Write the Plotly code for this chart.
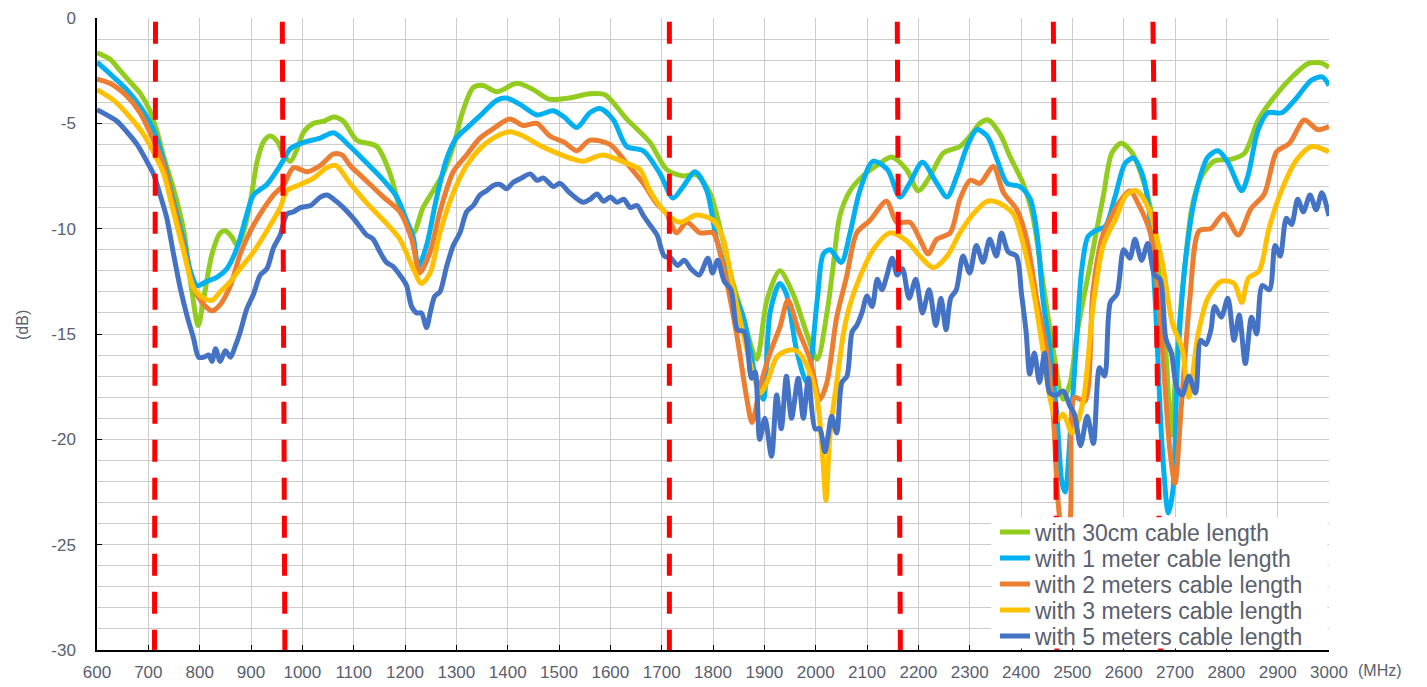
import plotly.graph_objects as go

# ---- measured return loss (dB) versus frequency (MHz) ----
freq_30cm = [600, 625, 645, 665, 685, 703, 717, 730, 749, 769, 785, 797, 808, 824, 840, 850, 863, 873,
             885, 899, 912, 925, 938, 951, 964, 977, 990, 1003, 1022, 1042, 1061, 1080, 1106, 1145,
             1171, 1190, 1216, 1235, 1255, 1274, 1294, 1313, 1333, 1352, 1379, 1418, 1450, 1480, 1520,
             1560, 1590, 1632, 1677, 1710, 1742, 1768, 1794, 1813, 1837, 1859, 1885, 1905, 1930, 1956,
             1983, 2003, 2022, 2034, 2047, 2067, 2092, 2125, 2148, 2177, 2200, 2223, 2249, 2281, 2301,
             2320, 2336, 2359, 2379, 2404, 2423, 2443, 2463, 2482, 2496, 2509, 2534, 2544, 2560, 2577,
             2595, 2615, 2634, 2652, 2671, 2684, 2692, 2705, 2720, 2733, 2750, 2776, 2811, 2836, 2862,
             2895, 2928, 2960, 2987, 3000]
db_30cm = [-1.65, -1.95, -2.5, -3.05, -3.6, -4.4, -5.4, -6.6, -8.1, -10.1, -13.0, -14.6, -13.3, -11.2,
           -10.2, -10.1, -10.4, -10.8, -10.2, -8.7, -6.8, -5.85, -5.6, -5.85, -6.5, -6.8, -6.2, -5.4,
           -5.0, -4.9, -4.7, -4.9, -5.8, -6.1, -7.4, -9.0, -10.2, -9.0, -8.2, -7.4, -6.1, -4.4, -3.3,
           -3.2, -3.5, -3.1, -3.4, -3.85, -3.8, -3.6, -3.65, -4.8, -5.9, -7.2, -7.5, -7.45, -8.3, -9.9,
           -12.4, -14.2, -16.2, -13.4, -12.0, -13.1, -15.0, -16.2, -14.0, -11.8, -9.4, -8.2, -7.5,
           -6.9, -6.6, -7.2, -8.2, -7.5, -6.4, -6.1, -5.6, -5.0, -4.84, -5.5, -6.6, -7.85, -9.4, -12.6,
           -15.8, -18.1, -17.3, -15.0, -11.8, -10.5, -8.5, -6.4, -5.95, -6.35, -7.4, -9.0, -12.6,
           -16.5, -19.8, -15.5, -11.6, -9.0, -7.6, -6.8, -6.7, -6.4, -4.85, -3.7, -2.8, -2.15, -2.15,
           -2.35]

freq_1m = [600, 632, 658, 684, 710, 730, 749, 769, 782, 795, 814, 834, 853, 873, 892, 905, 931, 957,
           977, 1003, 1035, 1061, 1093, 1126, 1158, 1184, 1203, 1216, 1226, 1242, 1261, 1281, 1300,
           1326, 1352, 1379, 1398, 1424, 1457, 1489, 1510, 1535, 1560, 1580, 1606, 1632, 1664, 1697,
           1722, 1742, 1765, 1788, 1807, 1833, 1859, 1885, 1898, 1911, 1930, 1943, 1963, 1983, 2003,
           2015, 2028, 2050, 2067, 2086, 2112, 2140, 2164, 2184, 2208, 2236, 2256, 2275, 2295, 2314,
           2334, 2353, 2373, 2398, 2418, 2431, 2443, 2457, 2470, 2480, 2486, 2496, 2509, 2518, 2530,
           2544, 2564, 2583, 2603, 2619, 2636, 2649, 2661, 2675, 2687, 2696, 2705, 2720, 2739, 2764,
           2784, 2804, 2830, 2842, 2862, 2881, 2908, 2933, 2966, 2987, 3000]
db_1m = [-2.1, -2.8, -3.4, -4.2, -5.3, -6.8, -8.7, -10.6, -12.0, -12.7, -12.5, -12.3, -11.9, -10.9,
         -9.3, -8.4, -7.9, -7.0, -6.2, -5.9, -5.7, -5.45, -6.1, -6.9, -7.7, -8.5, -9.6, -10.4, -11.8,
         -10.8, -8.6, -6.7, -5.7, -5.1, -4.5, -3.9, -3.8, -4.1, -4.6, -4.4, -4.7, -5.2, -4.5, -4.3,
         -4.84, -6.1, -6.3, -7.4, -8.55, -8.0, -7.3, -8.2, -10.5, -12.6, -14.2, -17.3, -18.1, -14.0,
         -12.6, -13.1, -15.8, -17.3, -13.4, -11.2, -11.0, -11.6, -10.2, -8.2, -6.8, -7.2, -8.5, -7.8,
         -6.85, -7.85, -8.5, -7.5, -6.1, -5.3, -5.6, -6.7, -7.85, -8.0, -8.6, -10.2, -13.4, -15.8,
         -18.9, -22.1, -22.5, -19.7, -15.0, -12.0, -10.4, -10.1, -9.9, -8.5, -6.9, -6.65, -7.4, -9.0,
         -13.2, -20.4, -23.5, -22.4, -16.4, -11.6, -8.5, -6.6, -6.3, -6.9, -8.2, -7.5, -5.3, -4.5,
         -4.5, -3.9, -2.95, -2.8, -3.2]

freq_2m = [600, 625, 658, 684, 710, 730, 749, 769, 788, 808, 824, 840, 860, 879, 899, 918, 944, 964,
           983, 1009, 1035, 1061, 1077, 1093, 1119, 1158, 1190, 1213, 1229, 1249, 1268, 1294, 1320,
           1346, 1372, 1404, 1430, 1457, 1482, 1510, 1535, 1560, 1599, 1632, 1664, 1690, 1710, 1729,
           1749, 1775, 1800, 1820, 1846, 1866, 1876, 1892, 1911, 1930, 1946, 1966, 1989, 2008, 2022,
           2041, 2060, 2080, 2106, 2138, 2158, 2184, 2203, 2219, 2236, 2262, 2281, 2301, 2320, 2346,
           2366, 2392, 2411, 2431, 2450, 2463, 2472, 2484, 2496, 2505, 2524, 2540, 2558, 2572, 2590,
           2612, 2630, 2653, 2673, 2690, 2700, 2712, 2729, 2747, 2770, 2795, 2823, 2848, 2874, 2898,
           2923, 2952, 2978, 3000]
db_2m = [-2.9, -3.1, -3.7, -4.5, -5.8, -7.0, -8.9, -10.9, -12.8, -13.6, -13.9, -13.6, -12.7, -11.2,
         -10.1, -9.3, -8.4, -7.9, -7.1, -7.3, -7.0, -6.45, -6.5, -7.0, -7.6, -8.5, -9.2, -10.5, -12.1,
         -11.1, -9.2, -7.3, -6.5, -5.7, -5.25, -4.8, -5.1, -5.0, -5.6, -5.9, -6.3, -5.8, -6.0, -6.9,
         -7.85, -8.8, -9.3, -10.2, -9.7, -10.2, -10.2, -11.8, -15.0, -18.1, -19.2, -17.5, -15.9,
         -14.7, -13.4, -14.8, -16.2, -18.1, -17.3, -14.2, -12.3, -10.2, -9.6, -8.7, -9.7, -9.7, -10.5,
         -11.2, -10.5, -10.2, -8.6, -7.7, -7.85, -7.05, -8.3, -9.1, -10.5, -13.4, -15.8, -18.9, -22.9,
         -25.2, -23.7, -18.0, -18.2, -13.0, -10.4, -9.6, -8.8, -8.2, -8.9, -10.3, -15.0, -20.5,
         -22.1, -18.5, -13.3, -10.1, -10.0, -9.3, -10.3, -9.05, -8.35, -6.35, -5.95, -4.84, -5.3,
         -5.15]

freq_3m = [600, 632, 664, 690, 717, 730, 749, 769, 788, 808, 824, 840, 860, 879, 905, 931, 957, 970,
           996, 1022, 1048, 1065, 1093, 1126, 1158, 1190, 1216, 1232, 1249, 1268, 1294, 1320, 1346,
           1372, 1404, 1430, 1463, 1495, 1528, 1547, 1586, 1632, 1658, 1677, 1710, 1736, 1768, 1800,
           1820, 1839, 1859, 1879, 1892, 1905, 1924, 1943, 1963, 1983, 2003, 2015, 2020, 2028, 2041,
           2054, 2067, 2086, 2112, 2145, 2178, 2203, 2229, 2256, 2281, 2307, 2334, 2359, 2385, 2404,
           2423, 2443, 2457, 2470, 2482, 2500, 2521, 2540, 2560, 2585, 2605, 2625, 2648, 2675, 2695,
           2714, 2727, 2745, 2764, 2790, 2815, 2830, 2843, 2864, 2883, 2909, 2938, 2967, 3000]
db_3m = [-3.4, -3.9, -4.7, -5.5, -6.7, -7.4, -9.2, -11.1, -12.8, -13.3, -13.4, -13.0, -12.5, -11.9,
         -11.1, -10.1, -9.0, -8.2, -7.9, -7.6, -7.1, -7.0, -7.85, -8.8, -9.6, -10.5, -11.9, -12.6,
         -12.1, -10.2, -8.3, -7.0, -6.2, -5.7, -5.4, -5.6, -6.05, -6.4, -6.7, -6.8, -6.5, -6.9, -7.2,
         -8.2, -9.3, -9.7, -9.35, -9.6, -10.5, -12.8, -15.0, -17.0, -17.8, -17.3, -16.1, -15.8,
         -15.8, -16.5, -18.1, -21.3, -22.9, -19.7, -17.3, -15.0, -13.6, -12.3, -11.0, -10.2, -10.6,
         -11.3, -11.85, -11.3, -10.2, -9.3, -8.7, -8.8, -9.3, -10.7, -12.8, -15.8, -18.1, -19.1,
         -18.8, -19.7, -18.2, -13.8, -10.8, -9.5, -8.4, -8.2, -9.0, -11.6, -14.5, -15.7, -18.0,
         -15.0, -13.3, -12.5, -12.6, -13.5, -12.35, -12.0, -10.0, -8.1, -6.7, -6.1, -6.35]

freq_5m = [600, 619, 639, 658, 678, 697, 710, 723, 736, 749, 762, 775, 788, 798, 808, 818, 824, 831,
           840, 850, 860, 869, 879, 892, 905, 918, 931, 944, 957, 970, 983, 996, 1016, 1035, 1048,
           1061, 1080, 1099, 1112, 1125, 1138, 1151, 1164, 1177, 1190, 1203, 1213, 1223, 1232, 1242,
           1249, 1258, 1268, 1281, 1294, 1307, 1320, 1333, 1346, 1359, 1372, 1385, 1398, 1411, 1427,
           1444, 1457, 1470, 1489, 1502, 1521, 1547, 1561, 1574, 1587, 1600, 1613, 1626, 1639, 1652,
           1665, 1678, 1691, 1705, 1718, 1731, 1744, 1757, 1773, 1790, 1799, 1809, 1822, 1835, 1848,
           1861, 1875, 1882, 1891, 1901, 1914, 1924, 1933, 1943, 1953, 1966, 1976, 1986, 1999, 2008,
           2018, 2025, 2031, 2041, 2051, 2061, 2071, 2080, 2090, 2100, 2110, 2120, 2129, 2139, 2149,
           2159, 2169, 2182, 2195, 2208, 2221, 2234, 2244, 2254, 2263, 2274, 2287, 2300, 2313, 2326,
           2339, 2352, 2362, 2375, 2391, 2401, 2410, 2417, 2426, 2436, 2446, 2456, 2469, 2482, 2495,
           2504, 2516, 2529, 2541, 2553, 2563, 2574, 2587, 2600, 2612, 2622, 2635, 2647, 2660, 2671,
           2682, 2693, 2703, 2714, 2727, 2740, 2750, 2760, 2770, 2777, 2790, 2803, 2815, 2825, 2837,
           2849, 2859, 2870, 2884, 2895, 2905, 2917, 2927, 2939, 2950, 2963, 2975, 2986, 3000]
db_5m = [-4.35, -4.6, -4.9, -5.4, -6.0, -6.8, -7.4, -8.4, -9.5, -11.2, -12.8, -14.1, -15.2, -16.1,
         -16.1, -16.0, -16.3, -15.7, -16.3, -15.8, -16.1, -15.6, -14.9, -13.8, -13.1, -12.2, -11.9,
         -10.9, -10.3, -9.3, -9.2, -9.0, -8.9, -8.5, -8.4, -8.6, -9.0, -9.5, -9.9, -10.3, -10.5,
         -11.1, -11.6, -11.8, -12.2, -12.7, -13.7, -14.0, -14.0, -14.7, -14.0, -13.2, -13.0, -11.8,
         -10.8, -10.2, -9.2, -8.9, -8.4, -8.2, -7.95, -7.9, -8.1, -7.8, -7.6, -7.4, -7.7, -7.6, -8.0,
         -7.85, -8.3, -8.75, -8.6, -8.35, -8.7, -8.5, -8.75, -8.6, -9.0, -8.9, -9.4, -9.85, -10.3,
         -11.3, -11.4, -11.75, -11.5, -11.9, -12.2, -11.4, -12.1, -11.5, -12.5, -12.9, -14.8, -14.9,
         -17.1, -16.8, -20.0, -19.0, -20.8, -17.9, -19.5, -17.0, -19.0, -17.1, -19.0, -17.1, -19.5,
         -19.5, -20.6, -19.7, -18.9, -19.7, -17.3, -17.0, -14.9, -14.6, -14.0, -13.2, -13.7, -12.4,
         -12.9, -12.2, -11.4, -12.2, -11.9, -13.3, -12.4, -14.0, -12.9, -14.6, -13.3, -14.8, -13.3,
         -12.9, -11.3, -12.1, -10.8, -11.6, -10.5, -11.3, -10.2, -11.1, -11.3, -13.1, -14.9, -16.9,
         -15.9, -17.3, -15.9, -17.8, -17.9, -17.7, -18.4, -18.8, -20.3, -18.9, -20.2, -16.6, -17.0,
         -13.5, -13.1, -11.0, -11.4, -10.5, -11.5, -10.7, -12.2, -12.4, -15.2, -15.9, -17.5, -17.9,
         -17.0, -17.8, -15.3, -15.5, -14.8, -13.7, -14.2, -13.3, -15.3, -14.1, -16.4, -14.2, -15.0,
         -12.7, -12.9, -10.8, -11.3, -9.5, -9.8, -8.6, -9.2, -8.4, -9.1, -8.3, -9.4]

series_names = ["with 30cm cable length", "with 1 meter cable length", "with 2 meters cable length",
                "with 3 meters cable length", "with 5 meters cable length"]
series_colors = ["#92CC1E", "#00B0F0", "#ED7D31", "#FFC000", "#4472C4"]

# band edges marked with red dashed lines: (frequency at top, frequency at bottom), MHz
band_edges = [(714, 712), (961, 966), (1715, 1715), (2159, 2165), (2463, 2470), (2657, 2672)]

x_ticks = list(range(600, 3001, 100))
y_ticks = [0, -5, -10, -15, -20, -25, -30]
y_tick_labels = ["0", "-5", "-10", "-15", "-20", "-25", "-30"]

TEXT = "#59606E"
FONT = "Liberation Sans, Arial, sans-serif"
GRID = "#CCCCCC"

W, H = 1427, 687
ML, MR, MT, MB = 97, 98, 18, 37
plot_w = W - ML - MR
plot_h = H - MT - MB

fig = go.Figure()
series = [(freq_30cm, db_30cm), (freq_1m, db_1m), (freq_2m, db_2m), (freq_3m, db_3m), (freq_5m, db_5m)]
legend_ids = ["legend", "legend2", "legend3", "legend4", "legend5"]
for (fx, fy), name, color, lid in zip(series, series_names, series_colors, legend_ids):
    fig.add_trace(go.Scatter(
        x=fx, y=fy, mode="lines", name=name, legend=lid,
        line=dict(color=color, width=5, shape="spline", smoothing=0.8),
        hoverinfo="x+y+name",
    ))

shapes = []
for top, bottom in band_edges:
    shapes.append(dict(type="line", xref="x", yref="y", x0=top, y0=-0.18, x1=bottom, y1=-30,
                       line=dict(color="#FF0000", width=5, dash="22px,16px"), layer="above"))
# white panel behind the legend entries
shapes.append(dict(type="rect", xref="x", yref="y", x0=2342, x1=2997, y0=-23.7, y1=-29.93,
                   fillcolor="white", line=dict(width=0), layer="above"))

layout = dict(
    width=W, height=H, autosize=False,
    margin=dict(l=ML, r=MR, t=MT, b=MB, pad=0, autoexpand=False),
    paper_bgcolor="white", plot_bgcolor="white",
    font=dict(family=FONT, color=TEXT, size=17),
    showlegend=True,
    shapes=shapes,
    xaxis=dict(range=[600, 3000], tickmode="array", tickvals=x_ticks, automargin=False,
               showgrid=True, gridcolor=GRID, gridwidth=1.3, zeroline=False,
               showline=True, linecolor="#000000", linewidth=1.5,
               ticks="inside", ticklen=5, tickcolor="#000000", tickwidth=1.3,
               tickfont=dict(size=17, color=TEXT), ticklabelstandoff=6),
    yaxis=dict(range=[-30, 0], tickmode="array", tickvals=y_ticks, ticktext=y_tick_labels,
               automargin=False,
               showgrid=True, gridcolor=GRID, gridwidth=1.3, zeroline=False,
               showline=True, linecolor="#000000", linewidth=1.5,
               ticks="inside", ticklen=5, tickcolor="#000000", tickwidth=1.3,
               tickfont=dict(size=17, color=TEXT), ticklabelstandoff=16,
               minor=dict(tickmode="linear", tick0=0, dtick=1, showgrid=True,
                          gridcolor=GRID, gridwidth=1.3, ticks="")),
    annotations=[
        dict(text="(dB)", xref="paper", yref="paper", x=(22 - ML) / plot_w,
             y=(H - MB - 325) / plot_h, textangle=-90, showarrow=False,
             font=dict(size=16, color=TEXT), xanchor="center", yanchor="middle"),
        dict(text="(MHz)", xref="paper", yref="paper", x=(1380 - ML) / plot_w,
             y=(H - MB - 670) / plot_h, showarrow=False,
             font=dict(size=16, color=TEXT), xanchor="center", yanchor="middle"),
    ],
)

row_centers = [532, 558, 584, 610, 636]
for lid, yc in zip(legend_ids, row_centers):
    layout[lid] = dict(x=(995 - ML) / plot_w, xanchor="left",
                       y=(H - MB - yc) / plot_h, yanchor="middle",
                       bgcolor="rgba(0,0,0,0)", borderwidth=0,
                       font=dict(size=23, color=TEXT, family=FONT))

fig.update_layout(**layout)
fig.write_html("out.html")
